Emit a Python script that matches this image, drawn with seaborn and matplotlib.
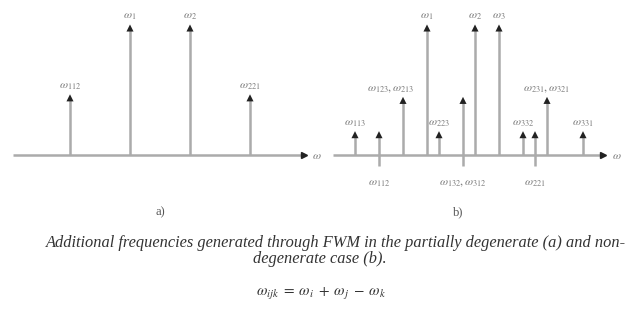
import matplotlib
matplotlib.use("Agg")
import matplotlib.pyplot as plt
import seaborn as sns
import pandas as pd

# 部分简并 (a)
a_freq = [-3, -1, 1, 3]
a_height = [0.45, 1.0, 1.0, 0.45]
a_base = [0, 0, 0, 0]
a_labels = [r"$\omega_{112}$", r"$\omega_1$", r"$\omega_2$", r"$\omega_{221}$"]

# 非简并 (b)
b_freq = [-6, -4, -2, 0, 1, 3, 4, 6, 8, 9, 10, 13]
b_height = [0.16, 0.16, 0.43, 1.0, 0.16, 0.43, 1.0, 1.0, 0.16, 0.16, 0.43, 0.16]
b_base = [0, -0.09, 0, 0, 0, -0.09, 0, 0, 0, -0.09, 0, 0]
b_labels = [r"$\omega_{113}$", r"$\omega_{112}$", r"$\omega_{123},\omega_{213}$",
            r"$\omega_1$", r"$\omega_{223}$", r"$\omega_{132},\omega_{312}$",
            r"$\omega_2$", r"$\omega_3$", r"$\omega_{332}$", r"$\omega_{221}$",
            r"$\omega_{231},\omega_{321}$", r"$\omega_{331}$"]

a_axis = (-4.9, 4.8)
b_axis = (-7.8, 14.7)

caption1 = "Additional frequencies generated through FWM in the partially degenerate (a) and non-"
caption2 = "degenerate case (b)."
equation = r"$\omega_{ijk}\;=\;\omega_i\;+\;\omega_j\;-\;\omega_k$"

sns.set_theme(style="white")
plt.rcParams["font.family"] = ["Liberation Serif", "DejaVu Serif"]
plt.rcParams["mathtext.fontset"] = "stix"

W, H = 643, 333
fig = plt.figure(figsize=(W / 100, H / 100), dpi=100)
fig.patch.set_facecolor("white")


def px_axes(x0, y0, x1, y1):
    return fig.add_axes([x0 / W, 1 - y1 / H, (x1 - x0) / W, (y1 - y0) / H])


line_c = "#ababab"
text_c = "#7d7d7d"


def draw_panel(ax, freq, height, base, labels, axis_range, label_dx=None):
    ax.set_ylim(-(225 - 155) / 127, 155 / 127)
    ax.axis("off")
    # 频率轴
    ax.plot(axis_range, [0, 0], color=line_c, lw=1.8, solid_capstyle="butt", zorder=1)
    ax.plot([axis_range[1]], [0], marker=">", color="#222222", ms=5, zorder=3)
    ax.annotate(r"$\omega$", (axis_range[1], 0), xytext=(6, -1), textcoords="offset points",
                va="center", ha="left", color=text_c, fontsize=8.5)
    ax.vlines(freq, base, height, color=line_c, lw=1.8, zorder=2)
    df = pd.DataFrame({"f": freq, "h": height})
    sns.scatterplot(data=df, x="f", y="h", marker="^", s=26, color="#222222",
                    edgecolor="none", ax=ax, zorder=3, legend=False)
    for i, (f, h, b, lab) in enumerate(zip(freq, height, base, labels)):
        dx = label_dx.get(i, 0) if label_dx else 0
        if b < 0:
            ax.annotate(lab, (f, b), xytext=(dx, -12), textcoords="offset points",
                        ha="center", va="center", color=text_c, fontsize=8.5)
        else:
            ax.annotate(lab, (f, h), xytext=(dx, 8.5), textcoords="offset points",
                        ha="center", va="center", color=text_c, fontsize=8.5)


ax_a = px_axes(0, 0, 320, 225)
ax_a.set_xlim(-160 / 30, 160 / 30)
draw_panel(ax_a, a_freq, a_height, a_base, a_labels, a_axis)

ax_b = px_axes(320, 0, 643, 225)
ax_b.set_xlim((320 - 427) / 12, (643 - 427) / 12)
draw_panel(ax_b, b_freq, b_height, b_base, b_labels, b_axis, label_dx={2: -9})

fig.text(160 / W, 1 - 212 / H, "a)", ha="center", va="center", fontsize=9, color="#555555")
fig.text(458 / W, 1 - 212 / H, "b)", ha="center", va="center", fontsize=9, color="#555555")

fig.text(46 / W, 1 - 243 / H, caption1, ha="left", va="center", fontsize=11.8,
         style="italic", color="#333333")
fig.text(320 / W, 1 - 259 / H, caption2, ha="center", va="center", fontsize=11.8,
         style="italic", color="#333333")
fig.text(321 / W, 1 - 293 / H, equation, ha="center", va="center", fontsize=11,
         color="#333333")

fig.savefig("out.png", dpi=100, facecolor="white")
